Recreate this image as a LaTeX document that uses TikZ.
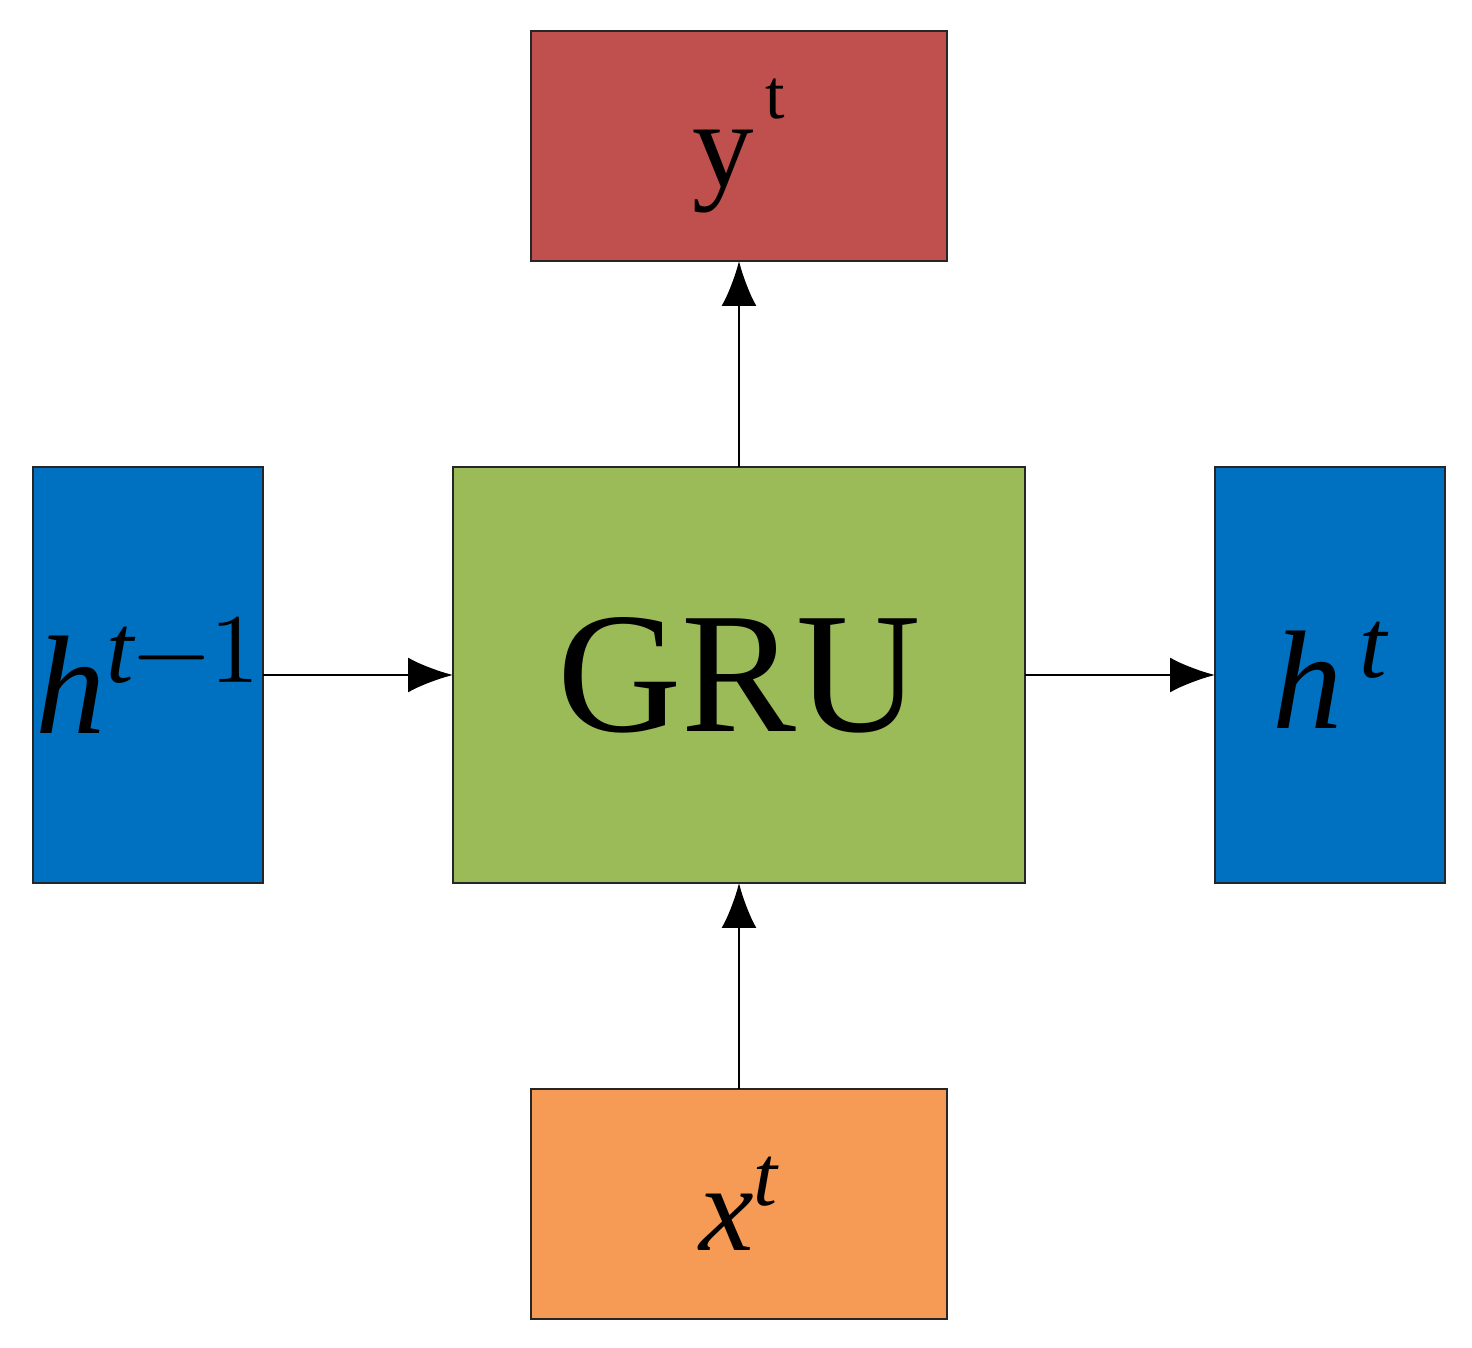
\documentclass[tikz,border=0pt]{standalone}
\usepackage{fontspec}
\usepackage{unicode-math}
\setmainfont{Liberation Serif}
\setmathfont{Latin Modern Math}
\setmathfont[range={it/{latin,Latin}}]{Liberation Serif Italic}
\usetikzlibrary{arrows.meta}
\definecolor{cred}{HTML}{C0504D}
\definecolor{cgreen}{HTML}{9BBB59}
\definecolor{cblue}{HTML}{0070C0}
\definecolor{corange}{HTML}{F59B55}
\begin{document}
\begin{tikzpicture}[x=0.02cm,y=-0.02cm,
  box/.style={draw=black!85,line width=1.6pt,inner sep=0,outer sep=0},
  arr/.style={line width=1.6pt,-{Latex[length=0.9cm,width=0.7cm]}}]
\useasboundingbox (0,0) rectangle (1472,1348);
\node[box,fill=cred,minimum width=416*0.02cm,minimum height=230*0.02cm] (y) at (739,146)
  {\fontsize{70}{80}\selectfont y\raisebox{0.55em}{\fontsize{40}{44}\selectfont\,t}};
\node[box,fill=cgreen,minimum width=572*0.02cm,minimum height=416*0.02cm] (g) at (739,675)
  {\fontsize{98}{110}\selectfont GRU};
\node[box,fill=cblue,minimum width=230*0.02cm,minimum height=416*0.02cm] (h1) at (148,675)
  {\fontsize{80}{90}\selectfont $h^{t-1}$};
\node[box,fill=cblue,minimum width=230*0.02cm,minimum height=416*0.02cm] (h2) at (1330,675)
  {\fontsize{80}{90}\selectfont $h^{\,t}$};
\node[box,fill=corange,minimum width=416*0.02cm,minimum height=230*0.02cm] (x) at (739,1204)
  {\fontsize{70}{80}\selectfont $x^{t}$};
\draw[arr] (g.north) -- (y.south);
\draw[arr] (x.north) -- (g.south);
\draw[arr] (h1.east) -- (g.west);
\draw[arr] (g.east) -- (h2.west);
\end{tikzpicture}
\end{document}
